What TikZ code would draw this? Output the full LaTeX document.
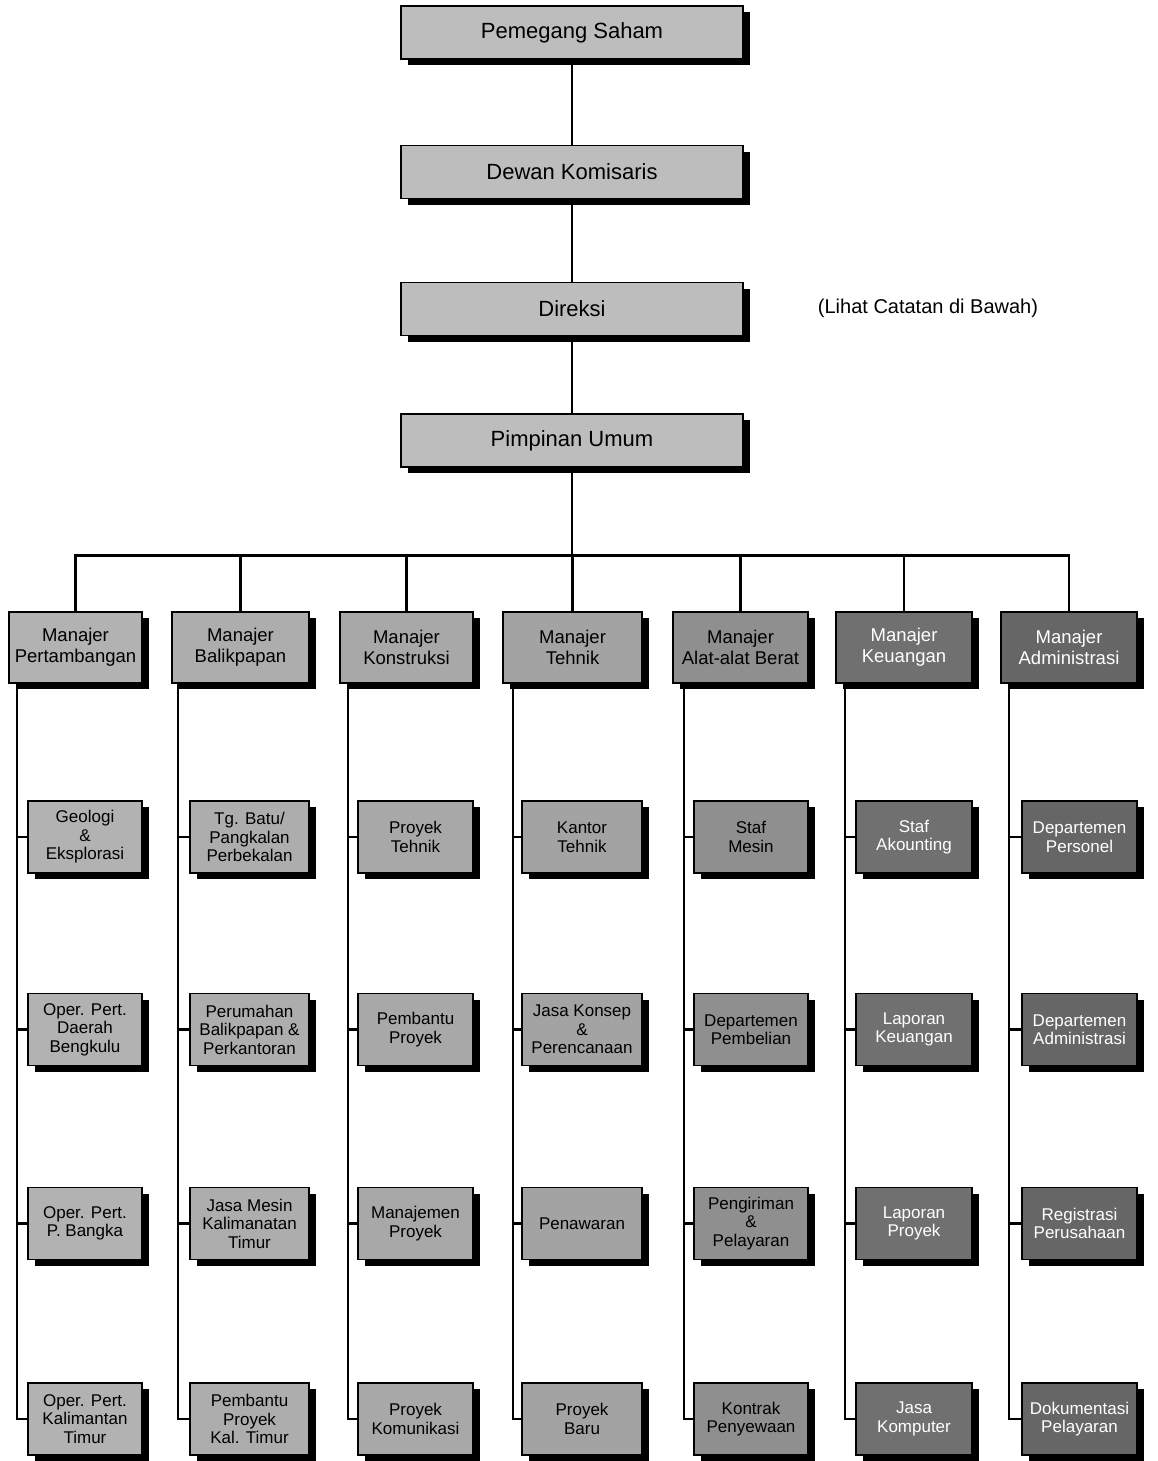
\documentclass[tikz,border=0pt]{standalone}
\usepackage{fontspec}
\setmainfont{Liberation Sans}
\usetikzlibrary{shadows,backgrounds}
\definecolor{topgray}{gray}{0.74}
\definecolor{cA}{gray}{0.70}
\definecolor{cB}{gray}{0.68}
\definecolor{cC}{gray}{0.66}
\definecolor{cD}{gray}{0.64}
\definecolor{cE}{gray}{0.56}
\definecolor{cF}{gray}{0.44}
\definecolor{cG}{gray}{0.40}
\tikzset{
  orgbox/.style={draw=black, line width=1.6pt, align=center, inner sep=0pt,
    drop shadow={shadow xshift=7pt, shadow yshift=-6pt, fill=black, opacity=1}},
  topbox/.style={orgbox, fill=topgray, minimum width=342pt, minimum height=53pt,
    font=\fontsize{22}{26}\selectfont},
  mgrbox/.style={orgbox, minimum height=71pt, font=\fontsize{18.5}{21}\selectfont},
  subbox/.style={orgbox, minimum height=72pt, font=\fontsize{17}{18.5}\selectfont},
  colA/.style={fill=cA},
  colB/.style={fill=cB},
  colC/.style={fill=cC},
  colD/.style={fill=cD},
  colE/.style={fill=cE},
  colF/.style={fill=cF, text=white},
  colG/.style={fill=cG, text=white},
  link/.style={draw=black, line width=2.4pt},
  note/.style={font=\fontsize{20}{24}\selectfont, inner sep=0pt},
}
\begin{document}
\begin{tikzpicture}[x=1pt, y=-1pt]
\useasboundingbox (0,0) rectangle (1157,1461);

% top chain
\node[topbox] (ps) at (572,32.5) {Pemegang Saham};
\node[topbox] (dk) at (572,172) {Dewan Komisaris};
\node[topbox] (dr) at (572,309) {Direksi};
\node[topbox] (pu) at (572,440.5) {Pimpinan Umum};
\node[note] (cat) at (928,308) {(Lihat Catatan di Bawah)};

% managers
\node[mgrbox, colA, minimum width=133pt] (m1) at (75.5,647.5) {Manajer\\Pertambangan};
\node[mgrbox, colB, minimum width=137pt] (m2) at (240.5,647.5) {Manajer\\Balikpapan};
\node[mgrbox, colC, minimum width=133pt] (m3) at (406.5,647.5) {Manajer\\Konstruksi};
\node[mgrbox, colD, minimum width=139pt] (m4) at (572.5,647.5) {Manajer\\Tehnik};
\node[mgrbox, colE, minimum width=135pt] (m5) at (740.5,647.5) {Manajer\\Alat-alat Berat};
\node[mgrbox, colF, minimum width=136pt] (m6) at (904,647.5) {Manajer\\Keuangan};
\node[mgrbox, colG, minimum width=136pt] (m7) at (1069,647.5) {Manajer\\Administrasi};

% column 1
\node[subbox, colA, minimum width=114pt] (a1) at (85,837) {Geologi\\\&\\Eksplorasi};
\node[subbox, colA, minimum width=114pt] (a2) at (85,1029.5) {Oper. Pert.\\Daerah\\Bengkulu};
\node[subbox, colA, minimum width=114pt] (a3) at (85,1223.5) {Oper. Pert.\\P. Bangka};
\node[subbox, colA, minimum width=114pt] (a4) at (85,1419) {Oper. Pert.\\Kalimantan\\Timur};
% column 2
\node[subbox, colB, minimum width=119pt] (b1) at (249.5,837) {Tg. Batu/\\Pangkalan\\Perbekalan};
\node[subbox, colB, minimum width=119pt] (b2) at (249.5,1029.5) {Perumahan\\Balikpapan \&\\Perkantoran};
\node[subbox, colB, minimum width=119pt] (b3) at (249.5,1223.5) {Jasa Mesin\\Kalimanatan\\Timur};
\node[subbox, colB, minimum width=119pt] (b4) at (249.5,1419) {Pembantu\\Proyek\\Kal. Timur};
% column 3
\node[subbox, colC, minimum width=115pt] (c1) at (415.5,837) {Proyek\\Tehnik};
\node[subbox, colC, minimum width=115pt] (c2) at (415.5,1029.5) {Pembantu\\Proyek};
\node[subbox, colC, minimum width=115pt] (c3) at (415.5,1223.5) {Manajemen\\Proyek};
\node[subbox, colC, minimum width=115pt] (c4) at (415.5,1419) {Proyek\\Komunikasi};
% column 4
\node[subbox, colD, minimum width=120pt] (d1) at (582,837) {Kantor\\Tehnik};
\node[subbox, colD, minimum width=120pt] (d2) at (582,1029.5) {Jasa Konsep\\\&\\Perencanaan};
\node[subbox, colD, minimum width=120pt] (d3) at (582,1223.5) {Penawaran};
\node[subbox, colD, minimum width=120pt] (d4) at (582,1419) {Proyek\\Baru};
% column 5
\node[subbox, colE, minimum width=114pt] (e1) at (751,837) {Staf\\Mesin};
\node[subbox, colE, minimum width=114pt] (e2) at (751,1029.5) {Departemen\\Pembelian};
\node[subbox, colE, minimum width=114pt] (e3) at (751,1223.5) {Pengiriman\\\&\\Pelayaran};
\node[subbox, colE, minimum width=114pt] (e4) at (751,1419) {Kontrak\\Penyewaan};
% column 6
\node[subbox, colF, minimum width=116pt] (f1) at (914,837) {Staf\\Akounting};
\node[subbox, colF, minimum width=116pt] (f2) at (914,1029.5) {Laporan\\Keuangan};
\node[subbox, colF, minimum width=116pt] (f3) at (914,1223.5) {Laporan\\Proyek};
\node[subbox, colF, minimum width=116pt] (f4) at (914,1419) {Jasa\\Komputer};
% column 7
\node[subbox, colG, minimum width=115pt] (g1) at (1079.5,837) {Departemen\\Personel};
\node[subbox, colG, minimum width=115pt] (g2) at (1079.5,1029.5) {Departemen\\Administrasi};
\node[subbox, colG, minimum width=115pt] (g3) at (1079.5,1223.5) {Registrasi\\Perusahaan};
\node[subbox, colG, minimum width=115pt] (g4) at (1079.5,1419) {Dokumentasi\\Pelayaran};

\coordinate (bus) at (572,555.5);
\coordinate (v1) at (17,684);
\coordinate (v2) at (178,684);
\coordinate (v3) at (348,684);
\coordinate (v4) at (513,684);
\coordinate (v5) at (684,684);
\coordinate (v6) at (845,684);
\coordinate (v7) at (1009,684);

\begin{pgfonlayer}{background}
  \draw[link] (ps.south) -- (dk.north);
  \draw[link] (dk.south) -- (dr.north);
  \draw[link] (dr.south) -- (pu.north);
  \draw[link] (pu.south) -- (bus);
  \draw[link] (m1.north) |- (bus) -| (m7.north);
  \foreach \m in {m2,m3,m4,m5,m6}
    \draw[link] (\m.north) -- (\m.north |- bus);
  \foreach \v/\c in {v1/a, v2/b, v3/c, v4/d, v5/e, v6/f, v7/g} {
    \draw[link] (\v) |- (\c4.west);
    \foreach \r in {1,2,3}
      \draw[link] (\v |- \c\r.west) -- (\c\r.west);
  }
\end{pgfonlayer}
\end{tikzpicture}
\end{document}
